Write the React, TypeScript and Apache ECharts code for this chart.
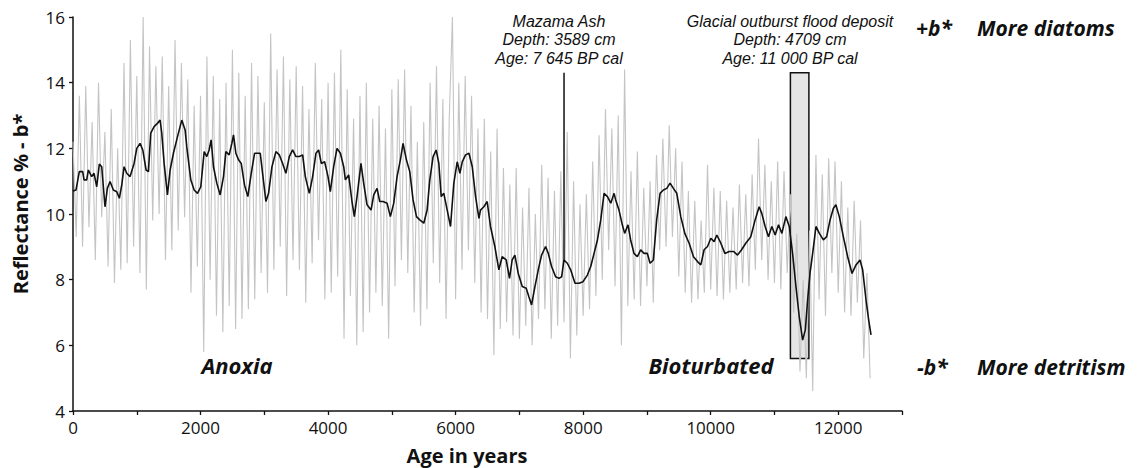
import React, { useEffect, useRef } from "react";
import * as echarts from "echarts";

// Raw reflectance b* series, sampled every 50 years from 0 to 12500
const RAW_STEP = 50;
const rawValues = [
  12.2, 9.3, 13.6, 9.0, 13.9, 9.6, 12.8, 8.6, 14.0, 9.9, 12.5, 8.4, 13.2, 7.9, 12.0, 8.3, 14.6, 8.5, 15.3, 9.0,
  14.2, 8.2, 16.0, 7.7, 15.1, 9.8, 14.5, 10.0, 14.8, 8.6, 13.9, 8.9, 15.3, 9.5, 14.6, 9.9, 14.1, 7.6, 13.3, 8.4,
  13.6, 5.8, 14.8, 8.0, 14.2, 6.9, 13.5, 6.4, 14.0, 7.2, 15.0, 6.5, 14.3, 6.8, 13.6, 7.1, 14.6, 7.4, 14.2, 8.2,
  13.4, 7.6, 15.5, 8.3, 14.4, 9.0, 14.8, 7.5, 14.1, 8.6, 14.5, 8.3, 13.9, 7.3, 13.2, 8.5, 14.6, 9.2, 13.5, 7.4,
  14.0, 7.6, 14.3, 8.1, 15.0, 6.2, 13.8, 7.5, 12.9, 6.0, 13.6, 6.4, 14.0, 7.0, 12.9, 7.6, 13.3, 7.2, 12.6, 6.2,
  13.8, 7.8, 14.1, 8.6, 14.4, 8.2, 13.3, 7.0, 12.2, 6.6, 12.8, 7.1, 14.0, 8.5, 14.5, 7.9, 13.5, 6.8, 12.9, 16.0,
  7.4, 14.0, 8.3, 14.2, 8.9, 13.6, 7.9, 12.6, 7.0, 12.9, 6.8, 11.9, 5.7, 12.6, 6.5, 11.4, 6.7, 10.9, 6.3, 11.4,
  6.2, 10.2, 6.6, 10.8, 6.0, 10.0, 6.8, 11.5, 7.1, 11.1, 6.2, 10.7, 6.6, 11.3, 6.7, 12.5, 5.6, 11.0, 6.3, 10.3,
  6.9, 10.6, 7.1, 11.6, 7.5, 12.4, 8.0, 13.2, 8.9, 12.6, 7.8, 13.0, 6.0, 14.4, 7.2, 11.3, 7.4, 11.9, 7.2, 10.8,
  7.8, 11.0, 7.3, 11.8, 8.9, 12.3, 9.0, 12.7, 9.3, 12.0, 8.1, 11.6, 7.6, 10.7, 7.3, 10.4, 7.4, 9.8, 7.6, 11.5,
  7.7, 10.8, 7.5, 10.7, 7.4, 10.4, 7.6, 10.2, 7.7, 10.9, 7.9, 10.6, 7.8, 11.2, 8.3, 12.3, 8.6, 11.5, 8.0, 11.0,
  7.9, 11.6, 7.7, 11.3, 8.2, 10.6, 7.0, 9.4, 5.2, 8.0, 5.0, 9.5, 4.6, 11.8, 7.4, 11.2, 6.9, 11.7, 8.2, 11.6,
  7.6, 11.0, 7.0, 10.2, 6.9, 10.4, 7.3, 9.8, 5.6, 8.2, 5.0,
];

// Smoothed (running mean) curve
const smoothAges = [
  0, 47, 99, 152, 173, 215, 241, 293, 330, 372, 413, 450, 502, 539, 581, 633, 686, 727, 764, 801, 843, 895, 958,
  1000, 1052, 1094, 1146, 1183, 1219, 1272, 1324, 1366, 1392, 1429, 1481, 1523, 1575, 1638, 1706, 1758, 1784, 1847,
  1900, 1952, 2004, 2057, 2098, 2135, 2166, 2203, 2255, 2308, 2360, 2397, 2449, 2491, 2517, 2554, 2596, 2638, 2690,
  2742, 2795, 2847, 2884, 2936, 2973, 3025, 3067, 3120, 3182, 3235, 3287, 3339, 3392, 3444, 3496, 3549, 3601, 3643,
  3706, 3758, 3810, 3852, 3894, 3946, 3999, 4035, 4088, 4140, 4193, 4245, 4271, 4323, 4375, 4412, 4454, 4516, 4558,
  4611, 4674, 4716, 4768, 4810, 4862, 4925, 4977, 5030, 5082, 5134, 5176, 5228, 5281, 5333, 5386, 5438, 5501, 5553,
  5595, 5647, 5695, 5737, 5774, 5815, 5868, 5920, 5972, 6025, 6067, 6104, 6156, 6209, 6261, 6313, 6366, 6390, 6443,
  6495, 6547, 6615, 6678, 6730, 6793, 6845, 6887, 6929, 6982, 7045, 7107, 7149, 7191, 7244, 7296, 7348, 7411, 7453,
  7505, 7568, 7621, 7663, 7699, 7752, 7804, 7872, 7935, 7998, 8066, 8119, 8171, 8224, 8276, 8328, 8381, 8433, 8485,
  8510, 8562, 8614, 8651, 8703, 8745, 8797, 8850, 8902, 8954, 9007, 9049, 9101, 9153, 9206, 9258, 9311, 9363, 9415,
  9468, 9531, 9594, 9662, 9730, 9793, 9845, 9897, 9950, 10002, 10054, 10096, 10159, 10222, 10290, 10358, 10421,
  10484, 10550, 10629, 10697, 10760, 10801, 10854, 10906, 10959, 11011, 11064, 11116, 11179, 11232, 11284, 11337,
  11389, 11442, 11484, 11520, 11557, 11599, 11651, 11704, 11767, 11819, 11872, 11923, 11963, 12017, 12080, 12148,
  12216, 12279, 12341, 12383, 12436, 12478, 12514,
];
const smoothValues = [
  10.7, 10.73, 11.29, 11.29, 11.04, 11.04, 11.34, 11.14, 11.24, 10.83, 11.52, 11.44, 10.22, 10.78, 10.99, 10.73, 10.68, 10.48, 10.88, 11.44, 11.24, 11.14, 11.54,
  12.0, 12.15, 11.95, 11.34, 11.29, 12.46, 12.66, 12.76, 12.86, 12.46, 11.54, 10.58, 11.34, 11.85, 12.35, 12.86, 12.56, 12.05, 11.04,
  10.73, 10.63, 10.83, 11.9, 11.75, 11.95, 12.26, 11.44, 10.94, 10.58, 11.14, 11.9, 11.8, 12.15, 12.41, 11.85, 11.65, 11.54, 10.88,
  10.53, 11.24, 11.85, 11.85, 11.85, 11.24, 10.38, 10.63, 11.44, 11.9, 11.8, 11.54, 11.24, 11.75, 11.95, 11.75, 11.75, 11.8, 11.14,
  10.63, 11.14, 11.85, 11.95, 11.54, 11.59, 11.14, 10.68, 11.44, 12.0, 11.85, 11.44, 11.04, 11.19, 10.38, 9.92, 10.53, 11.54, 10.94,
  10.28, 10.12, 10.58, 10.78, 10.38, 10.38, 10.33, 9.92, 10.33, 11.14, 11.65, 12.15, 11.65, 11.29, 10.43, 9.92, 9.82, 9.72, 10.12,
  11.04, 11.75, 11.95, 11.54, 10.53, 10.63, 10.12, 9.62, 10.94, 11.59, 11.24, 11.59, 11.8, 11.85, 11.44, 10.53, 9.87, 10.12, 10.22,
  10.38, 9.62, 9.01, 8.3, 8.7, 8.6, 8.04, 8.6, 8.75, 8.19, 7.79, 7.74, 7.48, 7.23, 7.79, 8.3, 8.75, 9.01, 8.8,
  8.4, 8.09, 8.04, 8.09, 8.6, 8.5, 8.3, 7.89, 7.89, 7.94, 8.14, 8.4, 8.8, 9.21, 9.82, 10.63, 10.53, 10.33, 10.63,
  10.43, 10.12, 9.67, 9.41, 9.67, 9.21, 8.8, 8.7, 8.91, 8.8, 8.8, 8.5, 8.6, 9.82, 10.63, 10.73, 10.78, 10.94, 10.78,
  10.63, 9.92, 9.41, 9.11, 8.7, 8.55, 8.45, 8.91, 9.01, 9.26, 9.16, 9.36, 9.11, 8.8, 8.86, 8.86, 8.75,
  8.91, 9.11, 9.31, 9.82, 10.22, 10.02, 9.62, 9.31, 9.62, 9.36, 9.67, 9.41, 9.92, 9.62, 8.8, 7.79,
  6.87, 6.16, 6.47, 7.38, 8.19, 8.8, 9.62, 9.41, 9.21, 9.31, 9.82, 10.17, 10.28, 9.92, 9.31, 8.7,
  8.19, 8.45, 8.6, 8.3, 7.38, 6.77, 6.32,
];

// Events
const mazamaAge = 7700;
const mazamaRange = [8.6, 14.3];
const mazamaLines = ["Mazama Ash", "Depth: 3589 cm", "Age: 7 645 BP cal"];
const floodAges = [11250, 11540];
const floodRange = [5.6, 14.3];
const floodLines = ["Glacial outburst flood deposit", "Depth: 4709 cm", "Age: 11 000 BP cal"];

// Axes
const xMin = 0;
const xMax = 13000;
const xTickStep = 1000;
const xLabelStep = 2000;
const yMin = 4;
const yMax = 16;
const yStep = 2;

const FONT = '"Open Sans", "Noto Sans", sans-serif';
const ANNOT_FONT = '"Liberation Sans", Arial, sans-serif';

export default function App() {
  const ref = useRef<HTMLDivElement>(null);

  useEffect(() => {
    if (!ref.current) return;
    const chart = echarts.init(ref.current, undefined, { renderer: "svg" });
    const rawData = rawValues.map((v, i) => [i * RAW_STEP, v]);
    const smoothData = smoothAges.map((a, i) => [a, smoothValues[i]]);

    const txt = (
      x: number,
      y: number,
      text: string,
      font: string,
      align: string,
      valign: string,
      extra: any = {}
    ) => ({
      type: "text",
      x,
      y,
      silent: true,
      ...extra,
      style: {
        text,
        font,
        fill: "#111",
        textAlign: align,
        textVerticalAlign: valign,
        align,
        verticalAlign: valign,
      },
    });

    const annot = `italic 16px ${ANNOT_FONT}`;
    const side = `italic bold 21px ${FONT}`;

    chart.setOption({
      animation: false,
      backgroundColor: "#fff",
      grid: { left: 73, right: 235, top: 17, bottom: 57, containLabel: false },
      xAxis: {
        type: "value",
        min: xMin,
        max: xMax,
        interval: xTickStep,
        axisLine: { lineStyle: { color: "#111", width: 1.5 } },
        axisTick: { show: true, length: 4, lineStyle: { color: "#111", width: 1.3 } },
        axisLabel: {
          color: "#111",
          fontSize: 17,
          fontFamily: FONT,
          margin: 8,
          formatter: (v: number) => (v % xLabelStep === 0 && v < xMax ? String(v) : ""),
        },
        splitLine: { show: false },
      },
      yAxis: {
        type: "value",
        min: yMin,
        max: yMax,
        interval: yStep,
        axisLine: { show: true, lineStyle: { color: "#111", width: 1.5 } },
        axisTick: { show: true, length: 4, lineStyle: { color: "#111", width: 1.3 } },
        axisLabel: { color: "#111", fontSize: 17, fontFamily: FONT, margin: 8 },
        splitLine: { show: false },
      },
      series: [
        {
          type: "line",
          name: "raw",
          data: rawData,
          showSymbol: false,
          symbol: "none",
          z: 2,
          lineStyle: { color: "#c4c4c4", width: 1.1 },
        },
        {
          type: "line",
          name: "smooth",
          data: smoothData,
          showSymbol: false,
          symbol: "none",
          z: 4,
          lineStyle: { color: "#111", width: 1.6 },
          markArea: {
            silent: true,
            itemStyle: { color: "rgba(215,215,215,0.65)", borderColor: "#111", borderWidth: 1.5 },
            data: [[{ coord: [floodAges[0], floodRange[1]] }, { coord: [floodAges[1], floodRange[0]] }]],
          },
        },
        {
          type: "line",
          name: "mazama",
          data: [
            [mazamaAge, mazamaRange[0]],
            [mazamaAge, mazamaRange[1]],
          ],
          showSymbol: false,
          symbol: "none",
          z: 5,
          lineStyle: { color: "#111", width: 1.5 },
        },
      ],
      graphic: [
        txt(20, 204, "Reflectance % - b*", `bold 20px ${FONT}`, "center", "middle", { rotation: Math.PI / 2 }),
        txt(467, 455, "Age in years", `bold 20px ${FONT}`, "center", "middle"),
        ...mazamaLines.map((t, i) => txt(559, 21 + i * 18.5, t, annot, "center", "middle")),
        ...floodLines.map((t, i) => txt(790, 21 + i * 18.5, t, annot, "center", "middle")),
        txt(916, 28, "+b*", side, "left", "middle"),
        txt(977, 28, "More diatoms", side, "left", "middle"),
        txt(917, 367, "-b*", side, "left", "middle"),
        txt(977, 367, "More detritism", side, "left", "middle"),
        txt(237, 365, "Anoxia", `italic bold 22px ${FONT}`, "center", "middle"),
        txt(711, 365, "Bioturbated", `italic bold 22px ${FONT}`, "center", "middle"),
      ],
    });
    return () => chart.dispose();
  }, []);

  return (
    <div
      ref={ref}
      style={{ position: "fixed", left: 0, top: 0, width: 1137, height: 468, background: "#fff" }}
    />
  );
}
